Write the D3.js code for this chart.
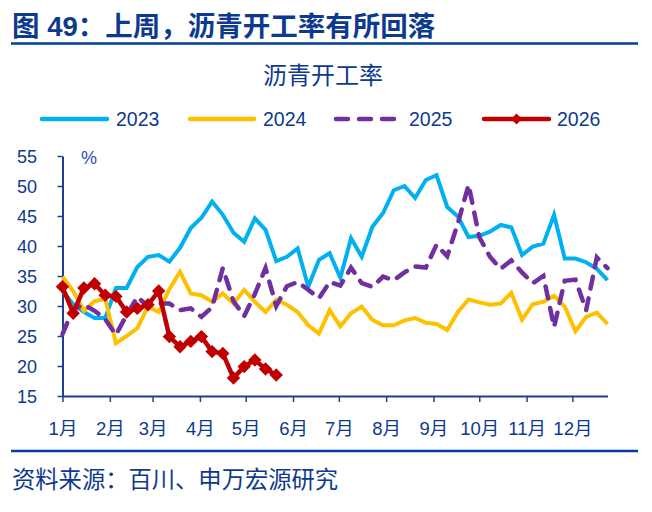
<!DOCTYPE html>
<html><head><meta charset="utf-8">
<script src="https://cdn.jsdelivr.net/npm/d3@7"></script>
<style>body{margin:0;background:#fff} svg{display:block}</style>
</head><body><svg id="c" width="652" height="512"></svg>
<script>
// ---- data ----
const monthLabels = ["1月","2月","3月","4月","5月","6月","7月","8月","9月","10月","11月","12月"];
const yTicks = [15,20,25,30,35,40,45,50,55];
const seriesNames = ["2023","2024","2025","2026"];
const s2023 = [32.5,30.3,29,28,28,33,33,36.5,38.2,38.5,37.4,39.7,43,44.7,47.4,45.2,42.2,40.7,44.6,42.7,37.5,38.2,39.6,33.2,37.7,38.8,34.7,41.3,38.2,43.2,45.5,49.3,50,48,51,51.8,46.5,44.9,41.5,41.7,42.4,43.5,43.1,38.5,39.9,40.4,45.2,37.9,37.9,37.3,36.2,34.3];
const s2024 = [34.9,32.5,29.2,30.8,31.2,23.8,25,26.3,29.9,29,32.8,35.7,32.1,31.8,30.7,32.1,30.4,32.7,30.7,29,31,30.2,29,26.8,25.4,29.3,26.6,28.8,29.9,27.7,26.8,26.8,27.6,28,27.2,27,26,29,31.1,30.6,30.2,30.4,32.2,27.7,30.3,30.7,31.7,29.9,25.8,28.2,28.9,27];
const s2025 = [25.3,29.5,30.2,29.2,27.8,25.2,28.5,31.5,30,30.4,30.4,29.3,29.6,28.2,29.8,36.3,30.8,28.3,32,36.3,30,33.3,34,32.7,31.3,34,33.4,36.4,33.8,33.2,34.9,34.3,35.6,36.6,36.4,40.2,38.3,43.8,50.2,41.5,38.2,36.2,37.6,35.6,33.8,35,26.5,34.2,34.4,29.3,38.1,36.3];
const s2026 = [33.2,28.8,33,33.7,31.8,31.6,29,29.6,30.2,32.5,24.9,23.2,24.1,24.9,22.4,22.1,18,19.9,21,19.5,18.5];

// ---- setup ----
const svg = d3.select("#c");
const txt = "#0d3a8e";
const axisCol = "#1f3f93";
const colors = {"2023":"#00B0F0","2024":"#FFC000","2025":"#7030A0","2026":"#C00000"};
const latin = "'Liberation Sans', Arial, 'Noto Sans CJK SC', sans-serif";
const cjk = "'Liberation Sans', 'Noto Sans CJK SC', sans-serif";

const base = Date.UTC(2023,0,1);
const weekDate = i => d3.utcDay.offset(new Date(base), 7*i);
const x = d3.scaleUtc().domain([new Date(base), new Date(Date.UTC(2023,11,24))]).range([62.5, 607.5]);
const y = d3.scaleLinear().domain([15,55]).range([396,156]);

// title
svg.append("text").attr("x",12).attr("y",36).attr("fill",txt)
  .attr("font-family",cjk).attr("font-weight","bold").attr("font-size",27.5)
  .text("图 49：上周，沥青开工率有所回落");
svg.append("line").attr("x1",11).attr("x2",638).attr("y1",43.5).attr("y2",43.5)
  .attr("stroke","#003e9c").attr("stroke-width",2.5);

// chart title
svg.append("text").attr("x",323).attr("y",84).attr("text-anchor","middle").attr("fill",txt)
  .attr("font-family",cjk).attr("font-size",24).text("沥青开工率");

// legend
const legend = [
  {name:"2023", x1:40, x2:109, tx:116},
  {name:"2024", x1:188, x2:256, tx:263},
  {name:"2025", x1:334, x2:397, tx:409},
  {name:"2026", x1:482, x2:551, tx:557}
];
legend.forEach(l=>{
  const ln = svg.append("line").attr("x1",l.x1+2).attr("x2",l.x2-2).attr("y1",119).attr("y2",119)
    .attr("stroke",colors[l.name]).attr("stroke-width",4.5).attr("stroke-linecap","round");
  if(l.name==="2025") ln.attr("stroke-dasharray","12,11");
  if(l.name==="2026"){
    svg.append("path").attr("d",d3.symbol(d3.symbolSquare,60)())
      .attr("transform",`translate(${(l.x1+l.x2)/2},119) rotate(45)`).attr("fill",colors[l.name]);
  }
  svg.append("text").attr("x",l.tx).attr("y",125.5).attr("fill",txt)
    .attr("font-family",latin).attr("font-size",19.5).text(l.name);
});

// axes
const monthDates = d3.utcMonth.range(new Date(base), new Date(Date.UTC(2023,11,24)));
const gx = svg.append("g").attr("transform","translate(0,396)")
  .call(d3.axisBottom(x).tickValues(monthDates).tickFormat((d,i)=>monthLabels[i]).tickSize(6).tickSizeOuter(0));
gx.select(".domain").attr("stroke",axisCol).attr("stroke-width",2);
gx.selectAll(".tick line").attr("stroke",axisCol).attr("stroke-width",1.5);
gx.selectAll(".tick text").attr("y",39).attr("dy",0).attr("fill",txt)
  .attr("font-family",cjk).attr("font-size",18.5);

const gy = svg.append("g").attr("transform","translate(62.5,0)")
  .call(d3.axisLeft(y).tickValues(yTicks).tickSize(5).tickSizeOuter(0).tickPadding(20.5));
gy.select(".domain").attr("stroke",axisCol).attr("stroke-width",2);
gy.selectAll(".tick line").attr("stroke",axisCol).attr("stroke-width",1.5);
gy.selectAll(".tick text").attr("fill",txt).attr("font-family",latin).attr("font-size",18).attr("dy","0.36em");

svg.append("text").attr("x",81).attr("y",164).attr("fill","#1f4fb5")
  .attr("font-family",latin).attr("font-size",18).text("%");

// lines
const line = d3.line().x((d,i)=>x(weekDate(i))).y(d=>y(d));
const data = {"2023":s2023,"2024":s2024,"2025":s2025,"2026":s2026};
seriesNames.forEach(n=>{
  const p = svg.append("path").datum(data[n]).attr("d",line).attr("fill","none")
    .attr("stroke",colors[n]).attr("stroke-width",n==="2023"||n==="2024"?4:4.5);
  if(n==="2025") p.attr("stroke-dasharray","12,10").attr("stroke-linecap","round");
});
svg.append("g").selectAll("path").data(s2026).join("path")
  .attr("d",d3.symbol(d3.symbolSquare,90)())
  .attr("transform",(d,i)=>`translate(${x(weekDate(i))},${y(d)}) rotate(45)`)
  .attr("fill",colors["2026"]);

// footer
svg.append("line").attr("x1",11).attr("x2",638).attr("y1",451).attr("y2",451)
  .attr("stroke","#003e9c").attr("stroke-width",2.5);
svg.append("text").attr("x",12).attr("y",488).attr("fill",txt)
  .attr("font-family",cjk).attr("font-size",23.3).text("资料来源：百川、申万宏源研究");
</script></body></html>
